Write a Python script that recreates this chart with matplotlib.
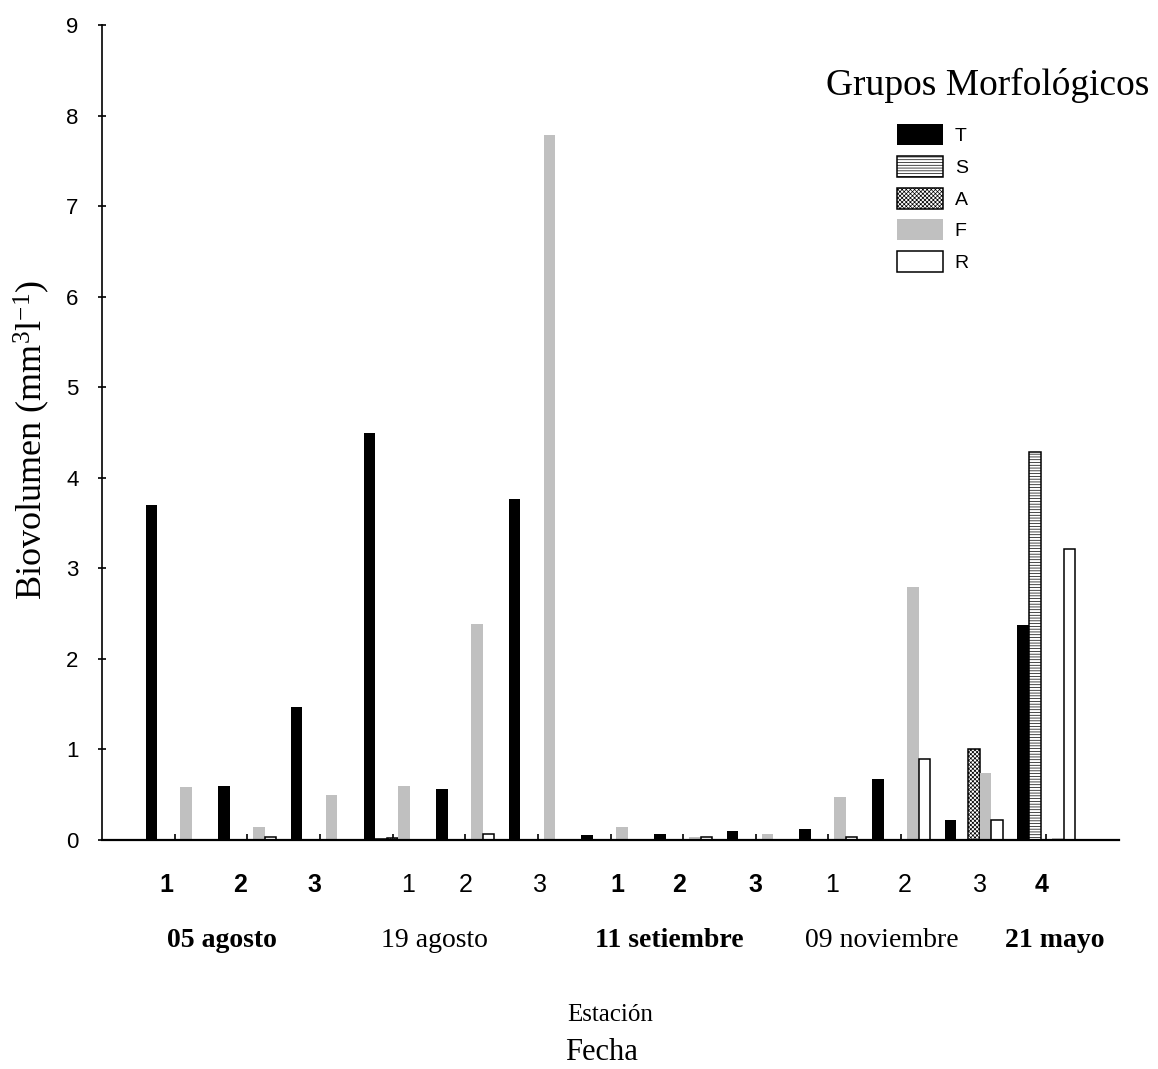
import matplotlib
matplotlib.use('Agg')
import matplotlib.pyplot as plt
import numpy as np

# biovolumen por grupo morfologico, 13 estaciones (5 fechas)
grupos = ['T', 'S', 'A', 'F', 'R']
T = [3.70, 0.60, 1.47, 4.50, 0.56, 3.77, 0.05, 0.07, 0.10, 0.12, 0.67, 0.22, 2.37]
S = [0.00, 0.00, 0.00, 0.01, 0.00, 0.00, 0.00, 0.00, 0.00, 0.00, 0.00, 0.00, 4.29]
A = [0.00, 0.00, 0.00, 0.02, 0.00, 0.00, 0.00, 0.00, 0.00, 0.00, 0.00, 1.00, 0.00]
F = [0.58, 0.14, 0.50, 0.60, 2.39, 7.78, 0.14, 0.03, 0.07, 0.47, 2.79, 0.74, 0.02]
R = [0.00, 0.03, 0.00, 0.00, 0.07, 0.00, 0.00, 0.03, 0.00, 0.03, 0.89, 0.22, 3.21]

estaciones = ['1', '2', '3', '1', '2', '3', '1', '2', '3', '1', '2', '3', '4']
fechas = ['05 agosto', '19 agosto', '11 setiembre', '09 noviembre', '21 mayo']
fecha_bold = [True, False, True, False, True]
est_fecha = [0, 0, 0, 1, 1, 1, 2, 2, 2, 3, 3, 3, 4]   # fecha de cada estacion

# little manual nudges of the text labels (data units)
est_shift = [-0.11, -0.10, -0.07, 0.21, 0.01, 0.03, 0.09, -0.06, -0.01, 0.05, 0.05, 0.08, -0.07]
fecha_x = [1.65, 4.58, 7.81, 10.74, 13.12]

plt.rcParams['mathtext.fontset'] = 'custom'
plt.rcParams['mathtext.rm'] = 'Liberation Serif'
plt.rcParams['mathtext.it'] = 'Liberation Serif'
plt.rcParams['hatch.linewidth'] = 0.5

fig = plt.figure(figsize=(11.58, 10.69), dpi=100)
ax = fig.add_axes([102/1158, 1-840/1069, 1017/1158, 815/1069])

x = np.arange(1, len(T)+1)
w = 0.16
series = [T, S, A, F, R]
styles = [dict(color='black', edgecolor='black', linewidth=0),
          dict(color='white', edgecolor='black', hatch='------', linewidth=1.1),
          dict(color='white', edgecolor='black', hatch='xxxxxxxx', linewidth=1.1),
          dict(color='#c0c0c0', edgecolor='#c0c0c0', linewidth=0),
          dict(color='white', edgecolor='black', linewidth=1.1)]
bars = []
for k in range(5):
    b = ax.bar(x + (k-2)*w, series[k], w, label=grupos[k], zorder=2, **styles[k])
    bars.append(b)

ax.set_xlim(0, 14)
ax.set_ylim(0, 9)
ax.set_yticks(range(10))
ax.set_xticks(x)
ax.set_xticklabels([])
ax.spines['top'].set_visible(False)
ax.spines['right'].set_visible(False)
ax.spines['left'].set_linewidth(1.2)
ax.spines['bottom'].set_linewidth(1.6)
ax.tick_params(axis='y', direction='inout', length=6, width=1.2, labelsize=16, pad=14)
ax.tick_params(axis='x', direction='in', length=4, width=1.2)
for t in ax.get_yticklabels():
    t.set_fontfamily('Liberation Sans')

ax.set_ylabel(r'Biovolumen (mm$^{3}$l$^{-1}$)', fontsize=26, family='Liberation Serif', va='center')
ax.yaxis.set_label_coords(-0.069, 0.491)

tr = ax.get_xaxis_transform()
for i, e in enumerate(estaciones):
    wt = 'bold' if fecha_bold[est_fecha[i]] else 'normal'
    ax.text(x[i] + est_shift[i], -0.055, e, transform=tr, ha='center', va='center',
            fontsize=18, fontweight=wt, family='Liberation Sans')
for j, f in enumerate(fechas):
    wt = 'bold' if fecha_bold[j] else 'normal'
    ax.text(fecha_x[j], -0.123, f, transform=tr, ha='center', va='center',
            fontsize=20, fontweight=wt, family='Liberation Serif')

fig.text(610/1158, 1-1015/1069, 'Estación', ha='center', va='center', fontsize=18, family='Liberation Serif')
fig.text(602/1158, 1-1053/1069, 'Fecha', ha='center', va='center', fontsize=22, family='Liberation Serif')

fig.text(988/1158, 1-85/1069, 'Grupos Morfológicos', ha='center', va='center', fontsize=27, family='Liberation Serif')
leg = ax.legend(handles=bars, loc='upper left', bbox_to_anchor=(897/1158, 1-124/1069),
                bbox_transform=fig.transFigure, frameon=False, borderpad=0, borderaxespad=0,
                prop={'family': 'Liberation Sans', 'size': 14}, handlelength=2.37,
                handleheight=1.29, labelspacing=0.55, handletextpad=0.6)

fig.savefig('out.png', dpi=100)
